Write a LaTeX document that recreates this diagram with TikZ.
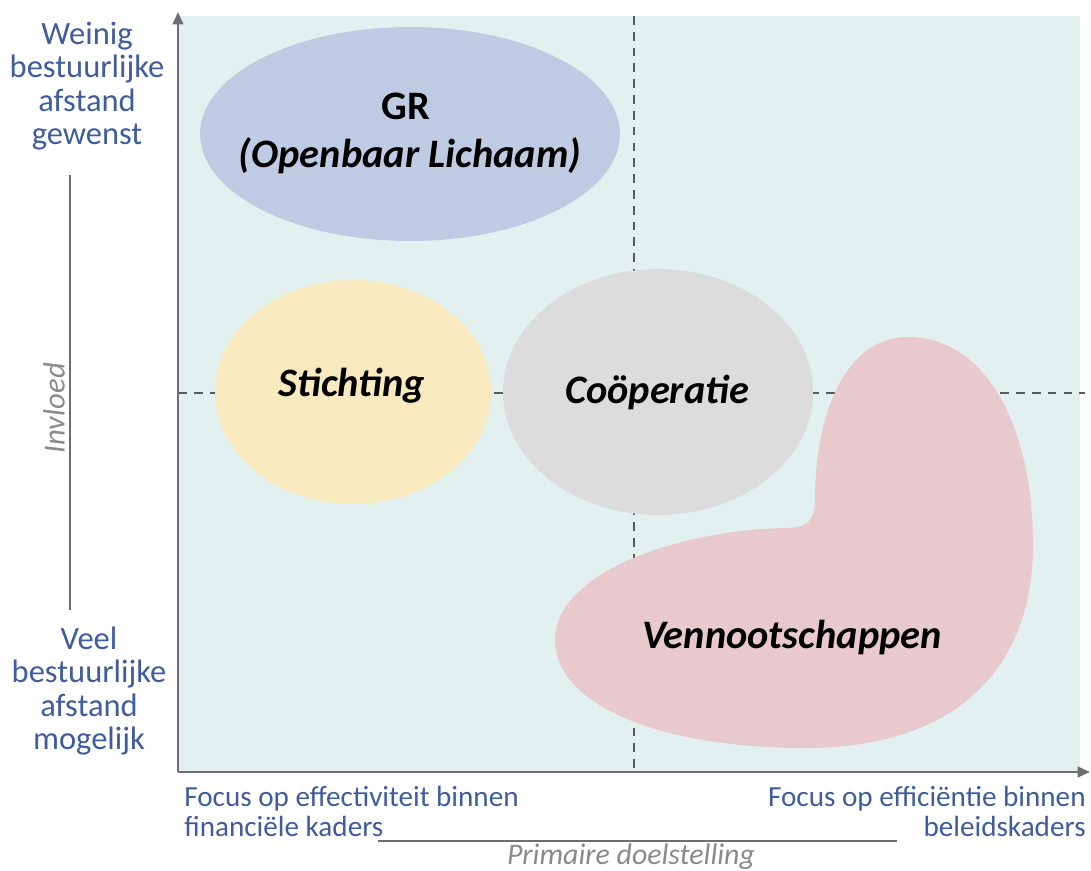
\documentclass[tikz,border=0pt]{standalone}
\usepackage{fontspec}
\setmainfont{Carlito}
\usetikzlibrary{shapes.geometric,arrows.meta}
\definecolor{panel}{HTML}{E2F0F0}
\definecolor{axisc}{HTML}{6E6E6E}
\definecolor{dashc}{HTML}{5A5A5A}
\definecolor{labblue}{HTML}{3F5C9C}
\definecolor{grblue}{HTML}{BFCBE3}
\definecolor{styellow}{HTML}{F8E9BE}
\definecolor{cogray}{HTML}{DCDCDC}
\definecolor{vepink}{HTML}{E8C9CD}
\definecolor{txtgray}{HTML}{8A8A8A}
\tikzset{
  blob/.style={ellipse, inner sep=0pt, draw=none},
  bigtxt/.style={font=\fontsize{23}{28}\selectfont\bfseries\itshape, text=black},
  sidelab/.style={align=center, text=labblue, font=\fontsize{18.5}{19}\selectfont},
  botlab/.style={text=labblue, font=\fontsize{16.6}{17.2}\selectfont, inner sep=0pt},
  axisline/.style={draw=axisc, line width=1.3pt, -{Triangle[length=7pt,width=6pt]}},
  divider/.style={draw=dashc, line width=0.9pt, dash pattern=on 5pt off 4pt},
}
\begin{document}
\begin{tikzpicture}[x=0.02cm,y=-0.02cm]
\useasboundingbox (0,0) rectangle (1091,870);
% panel
\fill[panel] (178,16) rectangle (1080,772);
% dividers
\coordinate (vtop) at (634,16);
\coordinate (vbot) at (634,772);
\coordinate (hl) at (178,393);
\coordinate (hr) at (1085,393);
\draw[divider] (vtop) -- (vbot);
\draw[divider] (hl) -- (hr);
% ellipses
\node[blob, fill=grblue, minimum width=8.4cm, minimum height=4.28cm] (gr) at (410,134) {};
\node[blob, fill=styellow, minimum width=5.52cm, minimum height=4.48cm] (st) at (353,392) {};
\node[blob, fill=cogray, minimum width=6.2cm, minimum height=4.92cm] (co) at (658,392) {};
% Vennootschappen blob
\fill[vepink] (555,640)
  .. controls (555,572) and (680,530) .. (785,528)
  .. controls (806,528) and (815,522) .. (815,500)
  .. controls (815,415) and (845,337) .. (908,337)
  .. controls (985,337) and (1033,425) .. (1033,545)
  .. controls (1033,665) and (960,748) .. (805,748)
  .. controls (660,748) and (555,705) .. (555,640) -- cycle;
% texts
\node[font=\fontsize{23}{28}\selectfont\bfseries, text=black] (grt1) at (406,106) {GR};
\node[bigtxt] (grt2) at (410,156) {(Openbaar Lichaam)};
\node[bigtxt] (stt) at (352,386) {Stichting};
\node[bigtxt] (cot) at (657,392) {Coöperatie};
\node[bigtxt] (vet) at (792,637) {Vennootschappen};
% axes
\coordinate (o) at (178,772);
\coordinate (ytop) at (178,12);
\coordinate (xend) at (1090,772);
\draw[axisline] (o) -- (ytop);
\draw[axisline] (o) -- (xend);
% left labels
\node[sidelab] (weinig) at (87,86) {Weinig\\bestuurlijke\\afstand\\gewenst};
\node[sidelab] (veel) at (89,691) {Veel\\bestuurlijke\\afstand\\mogelijk};
\coordinate (inv1) at (70,175);
\coordinate (inv2) at (70,610);
\draw[draw=axisc, line width=1.2pt] (inv1) -- (inv2);
\node[rotate=90, text=txtgray, font=\fontsize{17.5}{18}\selectfont\itshape] (invloed) at (54,408) {Invloed};
% bottom labels
\node[botlab, anchor=north west, align=left] (fl) at (184,786) {Focus op effectiviteit binnen\\financiële kaders};
\node[botlab, anchor=north east, align=right] (fr) at (1086,786) {Focus op efficiëntie binnen\\beleidskaders};
\coordinate (pl) at (378,841);
\coordinate (pr) at (897,841);
\draw[draw=axisc, line width=1.2pt] (pl) -- (pr);
\node[text=txtgray, font=\fontsize{17}{18}\selectfont\itshape, inner sep=0pt] (prim) at (631,857) {Primaire doelstelling};
\end{tikzpicture}
\end{document}
